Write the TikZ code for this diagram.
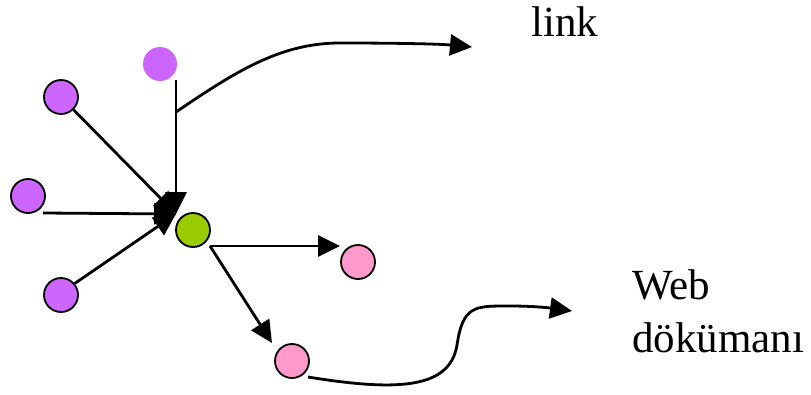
\documentclass[tikz,border=0pt]{standalone}
\usepackage{fontspec}
\setmainfont{Liberation Serif}
\usetikzlibrary{arrows.meta}
\definecolor{purp}{RGB}{204,102,255}
\definecolor{grn}{RGB}{153,204,0}
\definecolor{pnk}{RGB}{255,153,204}
\begin{document}
\begin{tikzpicture}[x=1pt,y=-1pt,
  dot/.style={circle,minimum size=34pt,inner sep=0pt,draw=black,line width=1.8pt},
  conn/.style={line width=2.8pt,-{Triangle[length=22pt,width=21pt]}},
  lbl/.style={font=\fontsize{43}{53}\selectfont,inner sep=0pt,align=left}]
\useasboundingbox (0,0) rectangle (811,394);
% nodes
\node[dot,fill=purp,draw=none] (top) at (160,64) {};
\node[dot,fill=purp] (lt) at (61,97) {};
\node[dot,fill=purp] (lm) at (28,196) {};
\node[dot,fill=purp] (lb) at (61,295) {};
\node[dot,fill=grn] (g) at (193,230) {};
\node[dot,fill=pnk] (pr) at (358,262) {};
\node[dot,fill=pnk] (pb) at (292,361) {};
\node[lbl,anchor=base west] (link) at (531,36) {link};
\node[lbl,anchor=base west] (web) at (632,352) {Web\\dökümanı};
% helper coordinates
\coordinate (hub) at (176,214);
\coordinate (vtop) at (176,80);
\coordinate (lms) at (43,213);
\coordinate (branch) at (176,112);
\coordinate (linkend) at (472,47);
\coordinate (gs) at (210,246);
\coordinate (prt) at (340,246);
\coordinate (pbt) at (272,343);
\coordinate (pbs) at (308,377);
\coordinate (webend) at (572,311);
% connectors into hub
\draw[conn] (vtop) -- (hub);
\draw[conn] (lt) -- (hub);
\draw[conn] (lms) -- (hub);
\draw[conn] (lb.40) -- (hub);
% link curve
\draw[conn] (branch) .. controls (235,72) and (280,43) .. (340,43)
  .. controls (400,43) and (440,44) .. (linkend);
% green outgoing
\draw[conn] (gs) -- (prt);
\draw[conn] (gs) -- (pbt);
% web curve
\draw[conn] (pbs) .. controls (400,392) and (450,388) .. (457,345)
  .. controls (463,305) and (475,306) .. (510,306)
  .. controls (535,306) and (550,308) .. (webend);
\end{tikzpicture}
\end{document}
